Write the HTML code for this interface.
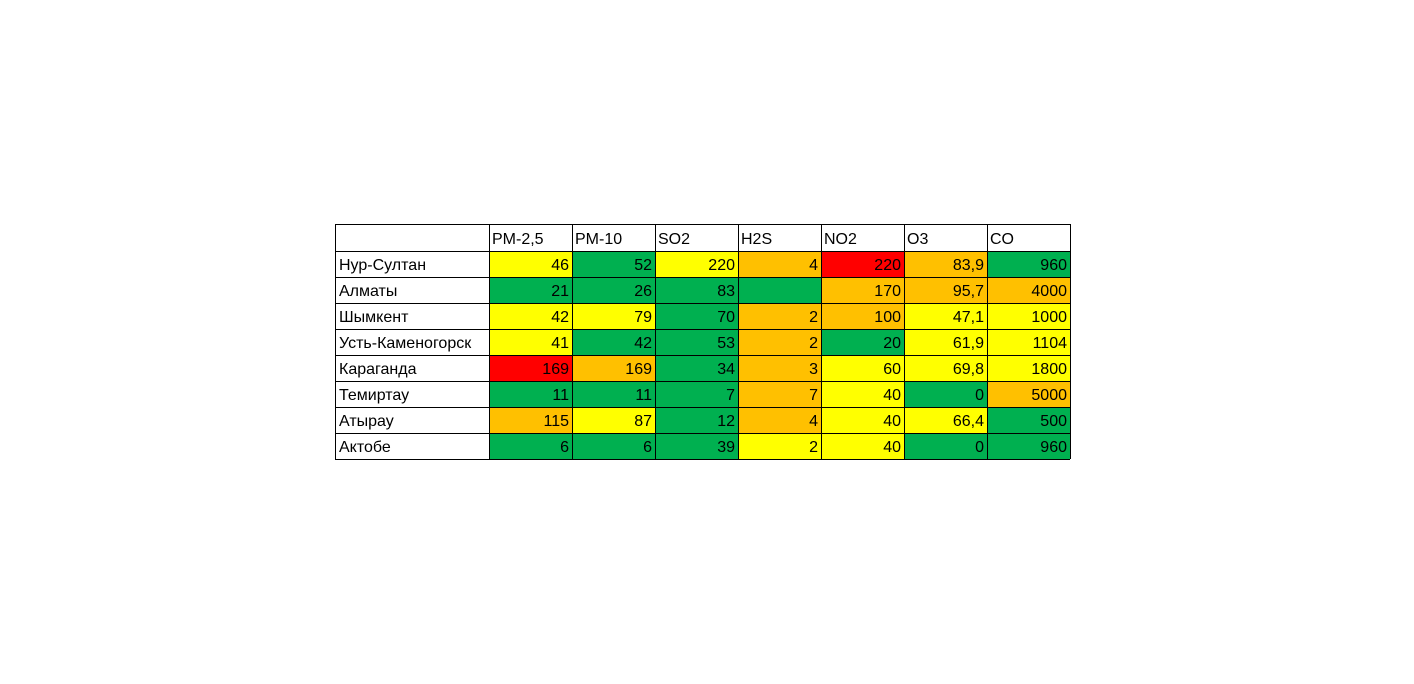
<!DOCTYPE html>
<html><head><meta charset="utf-8"><style>
body{margin:0;background:#fff;width:1414px;height:684px;overflow:hidden}
svg{display:block}
text{font-family:"Liberation Sans",sans-serif;font-size:16px;fill:#000}
</style></head><body>
<svg id="c" width="1414" height="684"></svg>
<script>
const cities=["Нур-Султан","Алматы","Шымкент","Усть-Каменогорск","Караганда","Темиртау","Атырау","Актобе"];
const pollutants=["PM-2,5","PM-10","SO2","H2S","NO2","O3","CO"];
const values=[
["46","52","220","4","220","83,9","960"],
["21","26","83","","170","95,7","4000"],
["42","79","70","2","100","47,1","1000"],
["41","42","53","2","20","61,9","1104"],
["169","169","34","3","60","69,8","1800"],
["11","11","7","7","40","0","5000"],
["115","87","12","4","40","66,4","500"],
["6","6","39","2","40","0","960"]];
const levels=[
["Y","G","Y","O","R","O","G"],
["G","G","G","G","O","O","O"],
["Y","Y","G","O","O","Y","Y"],
["Y","G","G","O","G","Y","Y"],
["R","O","G","O","Y","Y","Y"],
["G","G","G","O","Y","G","O"],
["O","Y","G","O","Y","Y","G"],
["G","G","G","Y","Y","G","G"]];
const col={Y:"#ffff00",G:"#00b050",O:"#ffc000",R:"#ff0000"};
const svg=document.getElementById('c');const NS="http://www.w3.org/2000/svg";
const x0=335,nameW=154,cw=83,y0=224,hh=27,rh=26;
function colX(j){return x0+nameW+j*cw;}
function rowY(i){return y0+hh+i*rh;}
function mk(t,a){const e=document.createElementNS(NS,t);for(const k in a)e.setAttribute(k,a[k]);svg.appendChild(e);return e;}
values.forEach((r,i)=>r.forEach((v,j)=>{
 const c=mk('rect',{x:colX(j),y:rowY(i),width:cw,height:rh,fill:col[levels[i][j]]});
 
 
 const t=mk('text',{x:colX(j)+cw-3,y:rowY(i)+19,'text-anchor':'end'});t.textContent=v;
 
 
}));
pollutants.forEach((p,j)=>{const t=mk('text',{x:colX(j)+3,y:y0+20});t.textContent=p;
 
 });
cities.forEach((n,i)=>{const t=mk('text',{x:x0+4,y:rowY(i)+19});t.textContent=n;
 
 });
const yEnd=rowY(cities.length),xEnd=colX(pollutants.length);
for(let i=0;i<=cities.length+1;i++){const y=i==0?y0:rowY(i-1);mk('line',{x1:x0,x2:xEnd,y1:y+.5,y2:y+.5,stroke:'#000','stroke-width':1});}
mk('line',{x1:x0+.5,x2:x0+.5,y1:y0,y2:yEnd,stroke:'#000'});
for(let j=0;j<=pollutants.length;j++){mk('line',{x1:colX(j)+.5,x2:colX(j)+.5,y1:y0,y2:yEnd,stroke:'#000'});}
</script>
</body></html>
